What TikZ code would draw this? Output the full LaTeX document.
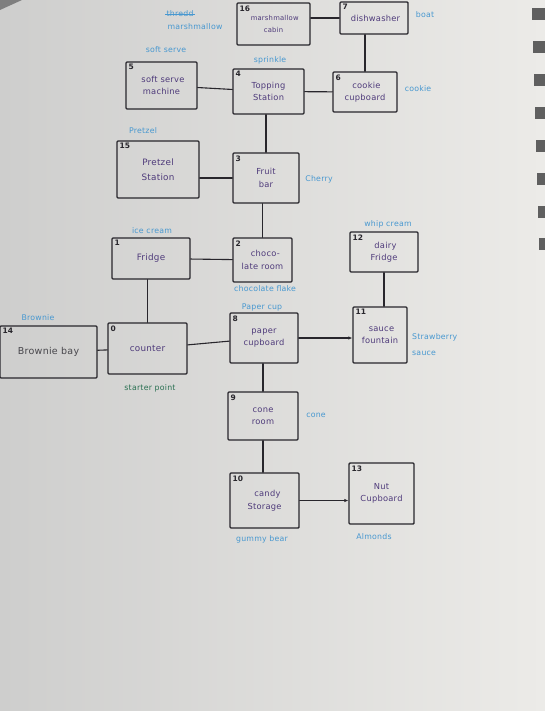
\documentclass[tikz,border=0pt]{standalone}
\usepackage{fontspec}
\setmainfont{DejaVu Sans}[LetterSpace=3]
\usetikzlibrary{arrows.meta}
\definecolor{ink}{RGB}{40,38,44}
\definecolor{penpurple}{RGB}{78,58,122}
\definecolor{penblue}{RGB}{72,152,208}
\definecolor{pengreen}{RGB}{42,112,82}
\definecolor{paperlight}{RGB}{236,235,232}
\definecolor{paperdark}{RGB}{206,206,205}
\definecolor{holegray}{RGB}{95,95,95}
\tikzset{
  room/.style={draw=ink,line width=1.4pt,rounded corners=1pt,align=center,
    text=penpurple,font=\fontsize{8.3}{12.5}\selectfont,inner sep=2pt},
  num/.style={anchor=north west,inner sep=3pt,text=ink,font=\fontsize{7.5}{8}\selectfont\bfseries},
  tag/.style={text=penblue,font=\fontsize{7.8}{9.5}\selectfont,inner sep=1pt,align=left},
  link/.style={draw=ink,line width=1.1pt}
}
\begin{document}
\begin{tikzpicture}[x=1pt,y=-1pt,line cap=round,line join=round,>=latex]
  \useasboundingbox (0,0) rectangle (545,711);
  \shade[left color=paperdark,right color=paperlight] (0,0) rectangle (545,711);
  \fill[holegray!80] (0,0) -- (22,0) -- (0,10) -- cycle;
  \foreach \y [count=\i] in {8,41,74,107,140,173,206,238}
    \fill[holegray] (531+\i,\y) rectangle (546,\y+12);

  % rooms
  \node[room,minimum width=73pt,minimum height=42pt,font=\fontsize{6.8}{12}\selectfont,
    label={[num]north west:16}] (b16) at (273.5,24) {\ marshmallow\\cabin};
  \node[room,minimum width=68pt,minimum height=32pt,
    label={[num]north west:7}] (b7) at (374,18) {\ dishwasher};
  \node[room,minimum width=64pt,minimum height=40pt,
    label={[num]north west:6}] (b6) at (365,92) {\ cookie\\cupboard};
  \node[room,minimum width=71pt,minimum height=45pt,
    label={[num]north west:4}] (b4) at (268.5,91.5) {Topping\\Station};
  \node[room,minimum width=71pt,minimum height=47pt,
    label={[num]north west:5}] (b5) at (161.5,85.5) {\ soft serve\\machine};
  \node[room,minimum width=82pt,minimum height=57pt,font=\fontsize{8.8}{15}\selectfont,
    label={[num]north west:15}] (b15) at (158,169.5) {Pretzel\\Station};
  \node[room,minimum width=66pt,minimum height=50pt,
    label={[num]north west:3}] (b3) at (266,178) {Fruit\\bar};
  \node[room,minimum width=78pt,minimum height=41pt,font=\fontsize{8.8}{11}\selectfont,
    label={[num]north west:1}] (b1) at (151,258.5) {Fridge};
  \node[room,minimum width=59pt,minimum height=44pt,
    label={[num]north west:2}] (b2) at (262.5,260) {\ \ choco-\\late room};
  \node[room,minimum width=68pt,minimum height=40pt,
    label={[num]north west:12}] (b12) at (384,252) {\ dairy\\Fridge};
  \node[room,minimum width=97pt,minimum height=52pt,text=ink!85,font=\fontsize{9.5}{11}\selectfont,
    label={[num]north west:14}] (b14) at (48.5,352) {Brownie bay};
  \node[room,minimum width=79pt,minimum height=51pt,font=\fontsize{8.8}{11}\selectfont,
    label={[num]north west:0}] (b0) at (147.5,348.5) {counter};
  \node[room,minimum width=68pt,minimum height=50pt,
    label={[num]north west:8}] (b8) at (264,338) {paper\\cupboard};
  \node[room,minimum width=54pt,minimum height=56pt,
    label={[num]north west:11}] (b11) at (380,335) {\ sauce\\fountain};
  \node[room,minimum width=70pt,minimum height=48pt,
    label={[num]north west:9}] (b9) at (263,416) {cone\\room};
  \node[room,minimum width=69pt,minimum height=55pt,
    label={[num]north west:10}] (b10) at (264.5,500.5) {\ \ candy\\Storage};
  \node[room,minimum width=65pt,minimum height=61pt,
    label={[num]north west:13}] (b13) at (381.5,493.5) {Nut\\Cupboard};

  % treats
  \node[tag] (t16a) at (180,14) {thredd};
  \draw[penblue,line width=0.6pt] (t16a.west) -- (t16a.east);
  \node[tag] (t16) at (195,27) {marshmallow};
  \node[tag] (t7) at (425,15) {boat};
  \node[tag] (t5) at (166,50) {soft serve};
  \node[tag] (t4) at (270,60) {sprinkle};
  \node[tag] (t6) at (418,89) {cookie};
  \node[tag] (t15) at (143,131) {Pretzel};
  \node[tag] (t3) at (319,179) {Cherry};
  \node[tag] (t1) at (152,231) {ice cream};
  \node[tag] (t2) at (265,289) {chocolate flake};
  \node[tag] (t12) at (388,224) {whip cream};
  \node[tag] (t14) at (38,318) {Brownie};
  \node[tag] (t8) at (262,307) {Paper cup};
  \node[tag,anchor=west,font=\fontsize{7.8}{16}\selectfont] (t11) at (411,345) {Strawberry\\sauce};
  \node[tag,text=pengreen] (t0) at (150,388) {starter point};
  \node[tag] (t9) at (316,415) {cone};
  \node[tag] (t10) at (262,539) {gummy bear};
  \node[tag] (t13) at (374,537) {Almonds};

  % paths
  \draw[link] (b7.west) -- (b7.west -| b16.east);
  \draw[link] (b6.north) -- (b6.north |- b7.south);
  \draw[link] (b5) -- (b4);
  \draw[link] (b4) -- (b6);
  \draw[link] (b3.north) -- (b3.north |- b4.south);
  \draw[link] (b3.west) -- (b3.west -| b15.east);
  \draw[link] (b2.north) -- (b2.north |- b3.south);
  \draw[link] (b1) -- (b2);
  \draw[link] (b0.north) -- (b0.north |- b1.south);
  \draw[link] (b14) -- (b0);
  \draw[link] (b0) -- (b8);
  \draw[link,-{Latex[length=4pt,width=3.5pt]}] (b8.east) -- (b8.east -| b11.west);
  \draw[link] (b12.south) -- (b12.south |- b11.north);
  \draw[link] (b9.north) -- (b9.north |- b8.south);
  \draw[link] (b9.south) -- (b9.south |- b10.north);
  \draw[link,-{Latex[length=4pt,width=3.5pt]}] (b10.east) -- (b10.east -| b13.west);
\end{tikzpicture}
\end{document}
